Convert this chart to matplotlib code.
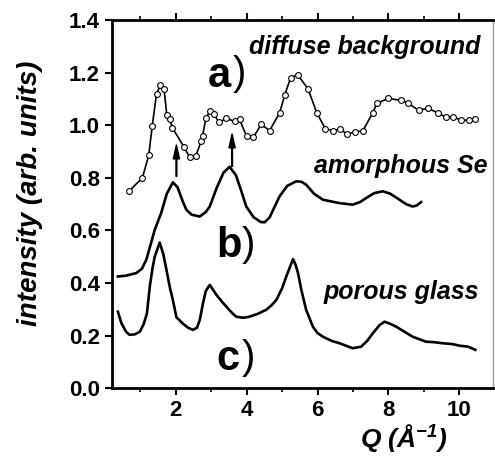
import numpy as np
import matplotlib
matplotlib.use("Agg")
import matplotlib.pyplot as plt

plt.rcParams['font.family'] = ['Liberation Sans', 'DejaVu Sans']
plt.rcParams['mathtext.fontset'] = 'custom'
plt.rcParams['mathtext.bf'] = 'Liberation Sans:bold:italic'
plt.rcParams['mathtext.rm'] = 'Liberation Sans:bold:italic'

# a) diffuse background (open circles)
q_diff = [0.68, 1.06, 1.24, 1.34, 1.46, 1.57, 1.67, 1.75, 1.83, 1.91, 2.23, 2.39, 2.56,
          2.72, 2.76, 2.85, 2.96, 3.08, 3.22, 3.43, 3.66, 3.80, 4.00, 4.19, 4.41, 4.65,
          4.93, 5.08, 5.24, 5.44, 5.73, 5.98, 6.22, 6.43, 6.64, 6.83, 7.05, 7.28, 7.56,
          7.67, 7.99, 8.36, 8.54, 8.85, 9.12, 9.39, 9.61, 9.83, 10.05, 10.26, 10.45]
i_diff = [0.749, 0.800, 0.886, 0.999, 1.120, 1.152, 1.139, 1.040, 1.022, 0.990, 0.918,
          0.880, 0.882, 0.939, 0.961, 1.026, 1.053, 1.043, 1.011, 1.026, 1.015, 1.022,
          0.958, 0.954, 1.003, 0.980, 1.047, 1.117, 1.180, 1.192, 1.139, 1.047, 0.987,
          0.980, 0.984, 0.968, 0.973, 0.980, 1.047, 1.083, 1.102, 1.095, 1.085, 1.057,
          1.065, 1.047, 1.032, 1.032, 1.019, 1.019, 1.022]

# b) amorphous Se
q_se = [0.37, 0.6, 0.89, 1.05, 1.17, 1.3, 1.41, 1.59, 1.75, 1.92, 2.05, 2.2, 2.30, 2.45,
        2.68, 2.85, 2.96, 3.15, 3.35, 3.52, 3.7, 3.85, 3.99, 4.2, 4.4, 4.51, 4.65, 4.93,
        5.15, 5.40, 5.55, 5.68, 5.9, 6.15, 6.4, 6.62, 6.99, 7.2, 7.37, 7.6, 7.84, 8.05,
        8.31, 8.5, 8.68, 8.8, 8.92]
i_se = [0.425, 0.428, 0.438, 0.455, 0.488, 0.550, 0.603, 0.666, 0.740, 0.783, 0.765,
        0.710, 0.679, 0.660, 0.653, 0.670, 0.691, 0.760, 0.820, 0.842, 0.810, 0.750,
        0.691, 0.650, 0.632, 0.631, 0.650, 0.730, 0.770, 0.787, 0.785, 0.774, 0.740,
        0.717, 0.710, 0.704, 0.698, 0.708, 0.723, 0.742, 0.749, 0.740, 0.717, 0.700,
        0.691, 0.695, 0.708]

# c) porous glass
q_glass = [0.37, 0.47, 0.6, 0.70, 0.85, 0.99, 1.1, 1.19, 1.27, 1.35, 1.41, 1.55, 1.65,
           1.74, 1.84, 1.92, 2.02, 2.21, 2.35, 2.49, 2.6, 2.68, 2.77, 2.85, 2.96, 3.05,
           3.15, 3.3, 3.43, 3.6, 3.71, 3.9, 4.08, 4.3, 4.55, 4.7, 4.84, 5.0, 5.12, 5.31,
           5.38, 5.45, 5.55, 5.68, 5.87, 6.0, 6.15, 6.4, 6.62, 6.8, 6.99, 7.23, 7.4, 7.56,
           7.75, 7.89, 8.05, 8.22, 8.45, 8.68, 8.9, 9.06, 9.3, 9.53, 9.8, 10.0, 10.25, 10.45]
i_glass = [0.291, 0.247, 0.215, 0.203, 0.205, 0.215, 0.245, 0.285, 0.387, 0.460, 0.501,
           0.554, 0.510, 0.450, 0.380, 0.336, 0.270, 0.245, 0.230, 0.222, 0.230, 0.260,
           0.323, 0.370, 0.393, 0.375, 0.355, 0.330, 0.310, 0.285, 0.272, 0.268, 0.272,
           0.282, 0.298, 0.315, 0.336, 0.380, 0.425, 0.491, 0.470, 0.438, 0.370, 0.298,
           0.234, 0.210, 0.196, 0.180, 0.171, 0.162, 0.152, 0.158, 0.180, 0.209, 0.240,
           0.253, 0.245, 0.234, 0.215, 0.196, 0.185, 0.177, 0.175, 0.171, 0.168, 0.162,
           0.158, 0.146]

# arrows: (Q, tail, head)
arrows = [(2.02, 0.806, 0.925), (3.59, 0.844, 0.967)]

fig = plt.figure(figsize=(4.95, 4.57), dpi=100)
ax = fig.add_axes([0.226, 0.1505, 0.77, 0.8055])

ax.plot(q_diff, i_diff, '-o', color='k', lw=1.2, ms=4.2, mfc='white', mec='k', mew=0.8)
ax.plot(q_se, i_se, '-', color='k', lw=1.9)
ax.plot(q_glass, i_glass, '-', color='k', lw=1.9)

for q, y0, y1 in arrows:
    ax.annotate('', xy=(q, y1), xytext=(q, y0),
                arrowprops=dict(width=0.6, headwidth=4.5, headlength=10, color='k', shrink=0))

ax.text(10.6, 1.27, 'diffuse background', fontsize=18, fontweight='bold',
        fontstyle='italic', ha='right', va='baseline')
ax.text(10.8, 0.82, 'amorphous Se', fontsize=18, fontweight='bold',
        fontstyle='italic', ha='right', va='baseline')
ax.text(10.55, 0.34, 'porous glass', fontsize=18, fontweight='bold',
        fontstyle='italic', ha='right', va='baseline')

for q, y, lab in [(2.9, 1.147, 'a'), (3.15, 0.498, 'b'), (3.15, 0.069, 'c')]:
    ax.text(q, y, lab, fontsize=30, fontweight='bold', va='baseline', ha='left')
    ax.annotate(')', xy=(q, y), xytext=(18, 1), textcoords='offset points',
                fontsize=29, va='baseline', ha='left')

ax.set_xlim(0.2, 10.95)
ax.set_ylim(0, 1.4)
ax.set_xticks([2, 4, 6, 8, 10])
ax.set_xticks([1, 3, 5, 7, 9], minor=True)
ax.set_yticks(np.arange(0, 1.41, 0.2))
ax.set_yticklabels(['%.1f' % v for v in np.arange(0, 1.41, 0.2)])

ax.tick_params(axis='both', which='major', direction='out', length=5, width=1.5,
               labelsize=16)
ax.tick_params(axis='x', which='minor', direction='out', length=3, width=1.2)
ax.tick_params(axis='x', which='both', top=True)
for lab in ax.get_xticklabels() + ax.get_yticklabels():
    lab.set_fontweight('bold')

for s in ['left', 'bottom', 'top']:
    ax.spines[s].set_linewidth(2)
ax.spines['right'].set_linewidth(1)
ax.spines['right'].set_color('#999999')

fig.text(0.06, 0.577, 'intensity (arb. units)', rotation=90, fontsize=20,
         fontweight='bold', fontstyle='italic', ha='center', va='center')
ax.text(0.765, -0.138, r'Q (Å$^{\mathbf{-1}}$)', transform=ax.transAxes, fontsize=19,
        fontweight='bold', fontstyle='italic', ha='center', va='center')

plt.savefig("out.png", dpi=100)
